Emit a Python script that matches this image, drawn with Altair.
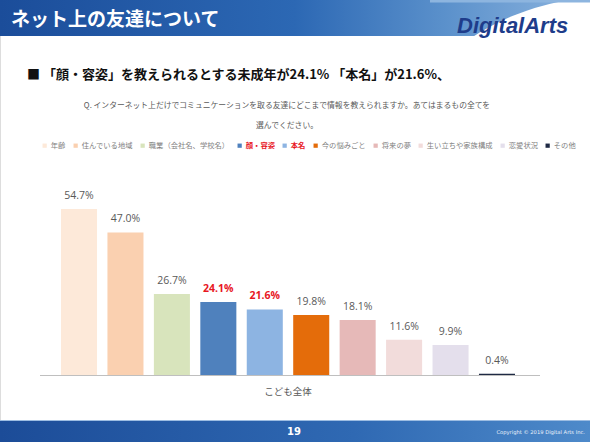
import altair as alt
import pandas as pd

# ---- data ----
categories = ["年齢", "住んでいる地域", "職業（会社名、学校名）", "顔・容姿", "本名",
              "今の悩みごと", "将来の夢", "生い立ちや家族構成", "恋愛状況", "その他"]
values = [54.7, 47.0, 26.7, 24.1, 21.6, 19.8, 18.1, 11.6, 9.9, 0.4]
bar_colors = ["#FDE9D9", "#FAD0B0", "#D8E4BC", "#4F81BD", "#8DB4E2",
              "#E46C0A", "#E6B9B8", "#F2DCDB", "#E4DFEC", "#1F2A44"]
highlight = ["顔・容姿", "本名"]
group_label = "こども全体"

title_text = "ネット上の友達について"
subtitle_text = "■  「顔・容姿」を教えられるとする未成年が24.1% 「本名」が21.6%、"
question_lines = [
    "Q. インターネット上だけでコミュニケーションを取る友達にどこまで情報を教えられますか。あてはまるもの全てを",
    "選んでください。",
]
page_no = "19"
copyright_text = "Copyright © 2019 Digital Arts Inc."
logo_text = "DigitalArts"

JP = "Noto Sans CJK JP"
GRAY = "#595959"
RED = "#E8171F"

df = pd.DataFrame({"cat": categories, "value": values})
one = pd.DataFrame({"a": [0]})

xs = alt.Scale(domain=categories, range=[61, 515], paddingInner=0.224, paddingOuter=0)
ys = alt.Scale(domain=[0, 60], range=[375, 193], nice=False)

base = alt.Chart(df)

# ---- decorations ----
header = alt.Chart(one).mark_rect(
    fill=alt.LinearGradient(
        gradient="linear", x1=0, x2=1, y1=0, y2=0,
        stops=[alt.GradientStop(offset=0, color="#1B4D9A"),
               alt.GradientStop(offset=0.5, color="#2C68B4"),
               alt.GradientStop(offset=0.75, color="#5A90CB"),
               alt.GradientStop(offset=1, color="#8DB5DF")])
).encode(x=alt.value(0), x2=alt.value(590), y=alt.value(0), y2=alt.value(36))

cut = alt.Chart(one).mark_circle(color="white", opacity=1).encode(
    x=alt.value(610), y=alt.value(250), size=alt.value(257000))

strip = alt.Chart(one).mark_rect(color="#8DB5DF").encode(
    x=alt.value(430), x2=alt.value(590), y=alt.value(0), y2=alt.value(2.5))

footer = alt.Chart(one).mark_rect(
    fill=alt.LinearGradient(
        gradient="linear", x1=0, x2=1, y1=0, y2=0,
        stops=[alt.GradientStop(offset=0, color="#1C4C98"),
               alt.GradientStop(offset=0.6, color="#2F69B3"),
               alt.GradientStop(offset=1, color="#4E8ACA")])
).encode(x=alt.value(0), x2=alt.value(590), y=alt.value(421), y2=alt.value(442))

footer_line = alt.Chart(one).mark_rule(color="#9DBDE2", strokeWidth=1).encode(
    x=alt.value(0), x2=alt.value(590), y=alt.value(420.5))

title = alt.Chart(one).mark_text(
    text=title_text, font=JP, fontSize=19, fontWeight="bold", color="white",
    align="left", baseline="alphabetic").encode(x=alt.value(11), y=alt.value(26))

logo = alt.Chart(one).mark_text(
    text=logo_text, font="Liberation Sans", fontSize=22, fontWeight="bold",
    fontStyle="italic", color="#1E3C8A", align="left", baseline="alphabetic"
).encode(x=alt.value(457), y=alt.value(33))

subtitle = alt.Chart(one).mark_text(
    text=subtitle_text, font=JP, fontSize=13, fontWeight="bold", color="#111111",
    align="left", baseline="middle").encode(x=alt.value(27), y=alt.value(75))

q1 = alt.Chart(one).mark_text(
    text=question_lines[0], font=JP, fontSize=7.8, color=GRAY,
    align="center", baseline="middle").encode(x=alt.value(287), y=alt.value(106))
q2 = alt.Chart(one).mark_text(
    text=question_lines[1], font=JP, fontSize=7.8, color=GRAY,
    align="center", baseline="middle").encode(x=alt.value(287), y=alt.value(126))

page = alt.Chart(one).mark_text(
    text=page_no, font="DejaVu Sans", fontSize=10, fontWeight="bold", color="white",
    align="center", baseline="middle").encode(x=alt.value(294), y=alt.value(432))
copy = alt.Chart(one).mark_text(
    text=copyright_text, font="DejaVu Sans", fontSize=5.2, color="#E8F0FA",
    align="right", baseline="middle").encode(x=alt.value(585), y=alt.value(432))

group = alt.Chart(one).mark_text(
    text=group_label, font=JP, fontSize=9.5, color=GRAY,
    align="center", baseline="middle").encode(x=alt.value(288), y=alt.value(392))

baseline_rule = alt.Chart(one).mark_rule(color="#BFBFBF", strokeWidth=1).encode(
    x=alt.value(40), x2=alt.value(540), y=alt.value(375.5))

# ---- bars ----
label_color_expr = "indexof(['顔・容姿','本名'], datum.value) >= 0 ? '#E8171F' : '#7F7F7F'"
label_weight_expr = "indexof(['顔・容姿','本名'], datum.value) >= 0 ? 'bold' : 'normal'"

bars = base.mark_bar().encode(
    x=alt.X("cat:N", scale=xs, axis=None, sort=categories),
    y=alt.Y("value:Q", scale=ys, axis=None),
    color=alt.Color("cat:N", sort=categories,
                    scale=alt.Scale(domain=categories, range=bar_colors),
                    legend=alt.Legend(
                        title=None, orient="none", legendX=41, legendY=142,
                        direction="horizontal", columns=10,
                        symbolType="square", symbolSize=18, symbolStrokeWidth=0,
                        labelFont=JP, labelFontSize=7.3, labelOffset=2.5,
                        columnPadding=6,
                        labelColor=alt.ExprRef(label_color_expr),
                        labelFontWeight=alt.ExprRef(label_weight_expr),
                        labelLimit=0)),
)

labels_norm = base.transform_filter(
    alt.FieldOneOfPredicate(field="cat", oneOf=[c for c in categories if c not in highlight])
).transform_calculate(
    label="format(datum.value, '.1f') + '%'"
).mark_text(font="Open Sans", fontSize=10.5, color=GRAY, dy=-13, baseline="middle").encode(
    x=alt.X("cat:N", scale=xs, axis=None, sort=categories),
    y=alt.Y("value:Q", scale=ys, axis=None),
    text="label:N")

labels_hi = base.transform_filter(
    alt.FieldOneOfPredicate(field="cat", oneOf=highlight)
).transform_calculate(
    label="format(datum.value, '.1f') + '%'"
).mark_text(font="Open Sans", fontSize=10.5, fontWeight="bold", color=RED, dy=-13,
            baseline="middle").encode(
    x=alt.X("cat:N", scale=xs, axis=None, sort=categories),
    y=alt.Y("value:Q", scale=ys, axis=None),
    text="label:N")

chart = alt.layer(
    header, cut, strip, footer, footer_line, title, logo, subtitle, q1, q2,
    page, copy, baseline_rule, bars, labels_norm, labels_hi, group
).properties(
    width=590, height=442,
    autosize=alt.AutoSizeParams(type="none"),
    padding=0,
).configure_view(stroke=None).configure(background="white")

chart.save("out.html", embed_options={"renderer": "svg", "actions": False})
